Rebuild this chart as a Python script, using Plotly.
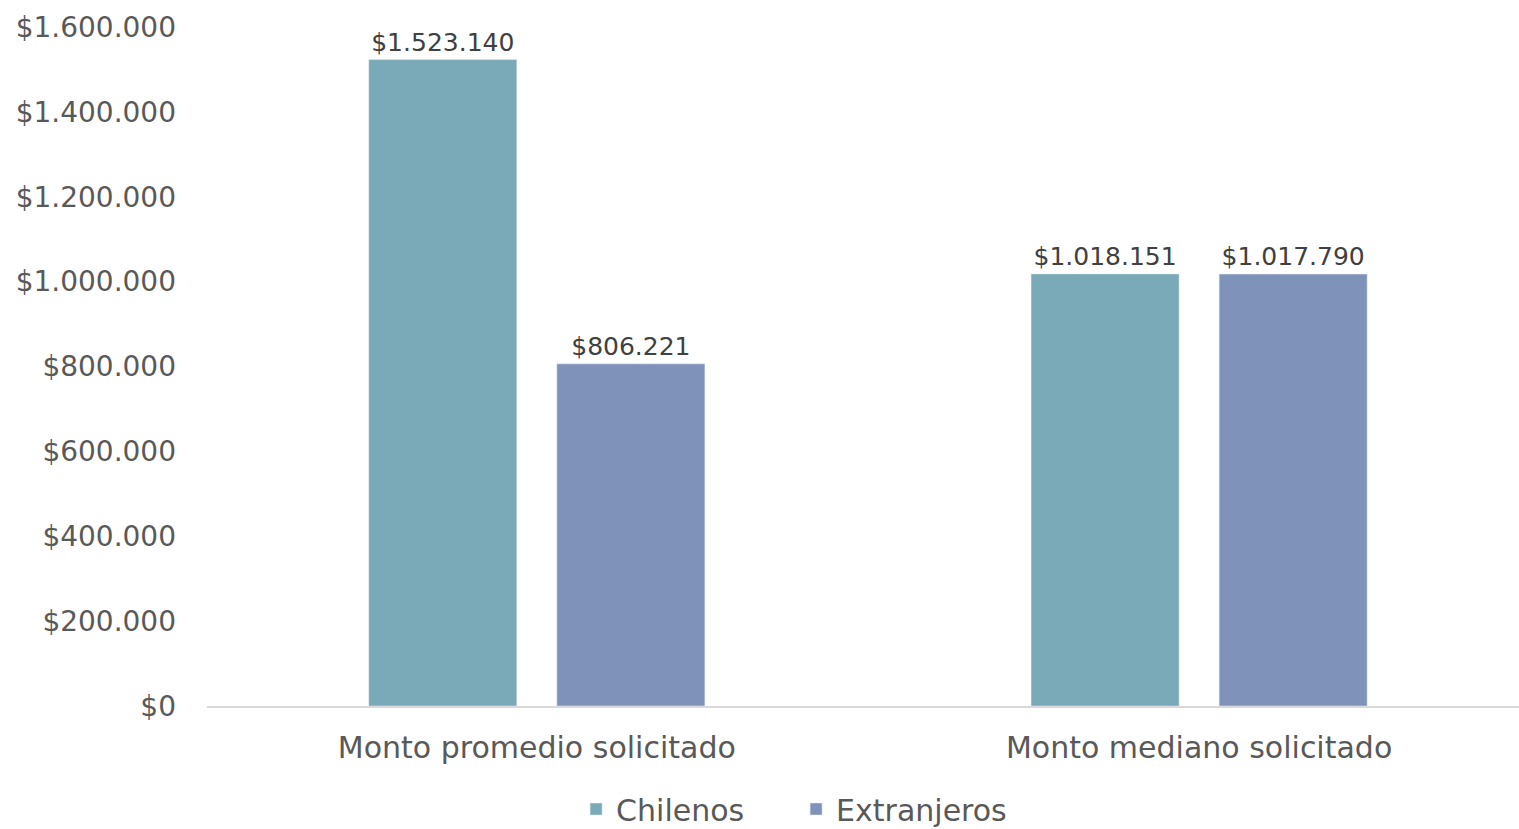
import plotly.graph_objects as go

categories = ["Monto promedio solicitado", "Monto mediano solicitado"]
chilenos = [1523140, 1018151]
extranjeros = [806221, 1017790]
series_names = ["Chilenos", "Extranjeros"]
tick_vals = [0, 200000, 400000, 600000, 800000, 1000000, 1200000, 1400000, 1600000]
tick_text = ["$0", "$200.000", "$400.000", "$600.000", "$800.000",
             "$1.000.000", "$1.200.000", "$1.400.000", "$1.600.000"]

FONT = "DejaVu Sans"
fig = go.Figure()
for name, vals, color in [(series_names[0], chilenos, "#7AA9B7"), (series_names[1], extranjeros, "#7F93BA")]:
    fig.add_trace(go.Bar(
        x=categories, y=vals, name=name, marker_color=color,
        texttemplate="$%{y:,.0f}", textposition="outside",
        textfont=dict(family=FONT, size=25, color="#404040"),
        cliponaxis=False,
    ))

fig.update_layout(
    width=1519, height=829,
    margin=dict(l=207, r=0, t=27, b=123, autoexpand=False),
    paper_bgcolor="white", plot_bgcolor="white",
    separators=",.",
    barmode="group", bargap=0.432, bargroupgap=0.213,
    font=dict(family=FONT, color="#595959", size=27),
    legend=dict(orientation="h", x=0.449, xanchor="center", y=-0.19, yanchor="bottom",
                font=dict(size=30, color="#595959"), itemwidth=30,
                entrywidth=175, entrywidthmode="pixels",
                tracegroupgap=0, traceorder="normal"),
    xaxis=dict(showline=True, linecolor="#D9D9D9", linewidth=1.5, ticks="",
               range=[-0.498, 1.483], ticklabelstandoff=14,
               tickfont=dict(size=30, color="#595959"), showgrid=False, automargin=False),
    yaxis=dict(range=[0, 1600000], tickvals=tick_vals, ticktext=tick_text,
               showgrid=False, zeroline=False, ticks="", ticklabelstandoff=30,
               tickfont=dict(size=28, color="#595959"), automargin=False),
)
fig.write_html("out.html", config={"displayModeBar": False},
               post_script="document.body.style.margin='0';document.body.style.overflow='hidden';")
